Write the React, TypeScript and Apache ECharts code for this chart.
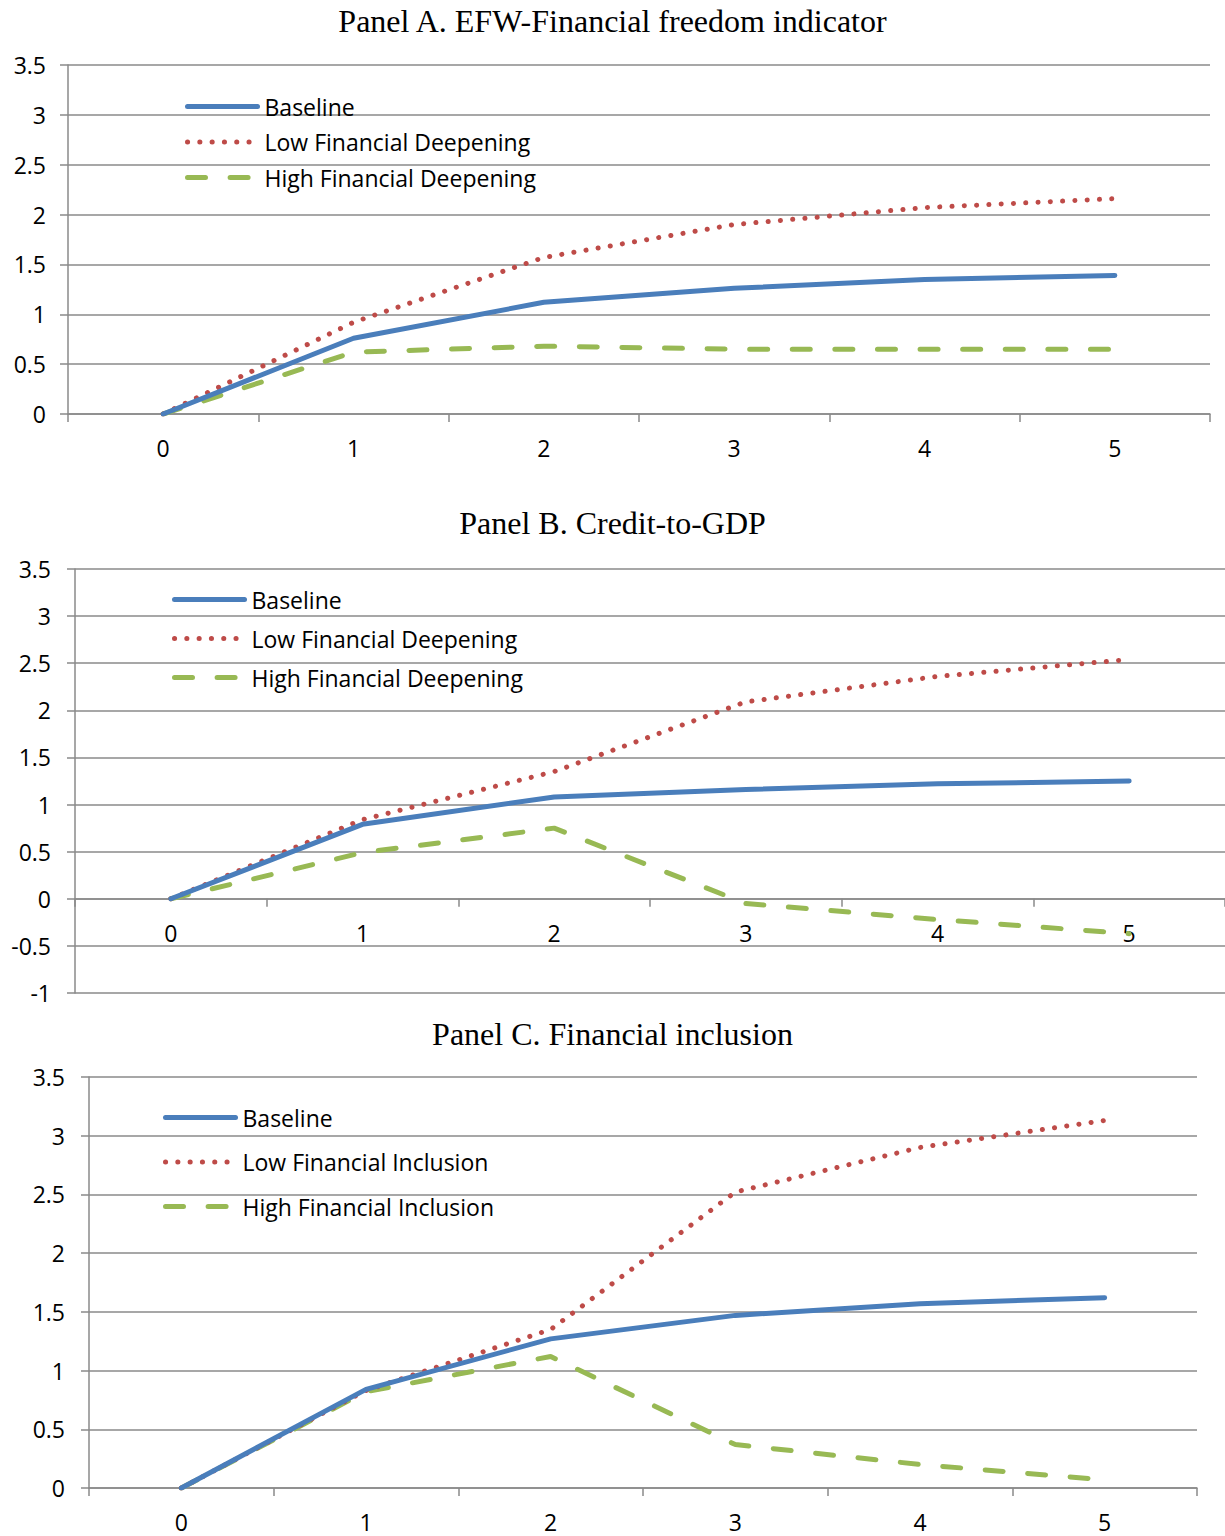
import React, { useEffect, useRef } from "react";
import * as echarts from "echarts";

const periods = ["0", "1", "2", "3", "4", "5"];

const titles = [
  "Panel A. EFW-Financial freedom indicator",
  "Panel B. Credit-to-GDP",
  "Panel C. Financial inclusion",
];

const namesA = ["Baseline", "Low Financial Deepening", "High Financial Deepening"];
const namesB = ["Baseline", "Low Financial Deepening", "High Financial Deepening"];
const namesC = ["Baseline", "Low Financial Inclusion", "High Financial Inclusion"];

const baselineA = [0, 0.76, 1.12, 1.26, 1.35, 1.39];
const lowA = [0, 0.92, 1.57, 1.9, 2.07, 2.16];
const highA = [0, 0.62, 0.68, 0.65, 0.65, 0.65];

const baselineB = [0, 0.79, 1.08, 1.16, 1.22, 1.25];
const lowB = [0, 0.84, 1.35, 2.09, 2.36, 2.54];
const highB = [0, 0.49, 0.75, -0.05, -0.22, -0.37];

const baselineC = [0, 0.84, 1.27, 1.47, 1.57, 1.62];
const lowC = [0, 0.83, 1.35, 2.52, 2.9, 3.13];
const highC = [0, 0.82, 1.12, 0.37, 0.2, 0.07];

const yMinA = 0, yMaxA = 3.5;
const yMinB = -1, yMaxB = 3.5;
const yMinC = 0, yMaxC = 3.5;
const yStep = 0.5;

const BLUE = "#4a7ebb";
const RED = "#be4b48";
const GREEN = "#98b954";
const GRID = "#8a8a8a";
const SANS = "Open Sans";
const FS = 23;

export default function App() {
  const ref = useRef<HTMLDivElement>(null);

  useEffect(() => {
    document.body.style.margin = "0";
    if (!ref.current) return;
    const chart = echarts.init(ref.current, null, { renderer: "svg" });

    const grids = [
      { left: 68, top: 65, right: 15, height: 349 },
      { left: 75, top: 569, right: 0, height: 424 },
      { left: 89, top: 1077, right: 28, height: 411 },
    ];
    const yRanges = [
      [yMinA, yMaxA],
      [yMinB, yMaxB],
      [yMinC, yMaxC],
    ];
    // distance of the zero line above the grid bottom (labels follow the zero line)
    const zeroOffset = grids.map((g, i) => (g.height * (0 - yRanges[i][0])) / (yRanges[i][1] - yRanges[i][0]));
    const xMargins = [22 - zeroOffset[0], 23 - zeroOffset[1], 22 - zeroOffset[2]];
    const yMargins = [22, 24, 24];

    const xAxes = grids.map((_, i) => ({
      type: "category",
      gridIndex: i,
      data: periods,
      boundaryGap: true,
      axisLine: { show: true, onZero: true, lineStyle: { color: GRID, width: 1.5 } },
      axisTick: { show: true, length: 8, lineStyle: { color: GRID, width: 1.5 } },
      axisLabel: { color: "#000", fontFamily: SANS, fontSize: FS, margin: xMargins[i] },
      splitLine: { show: false },
    }));

    const yAxes = grids.map((_, i) => ({
      type: "value",
      gridIndex: i,
      min: yRanges[i][0],
      max: yRanges[i][1],
      interval: yStep,
      axisLine: { show: true, lineStyle: { color: GRID, width: 1.5 } },
      axisTick: { show: true, length: 8, lineStyle: { color: GRID, width: 1.5 } },
      axisLabel: { color: "#000", fontFamily: SANS, fontSize: FS, margin: yMargins[i] },
      splitLine: { show: true, lineStyle: { color: GRID, width: 1.5 } },
    }));

    const panelData = [
      { names: namesA, data: [baselineA, lowA, highA] },
      { names: namesB, data: [baselineB, lowB, highB] },
      { names: namesC, data: [baselineC, lowC, highC] },
    ];

    const styles = [
      { color: BLUE, lineStyle: { color: BLUE, width: 5, type: "solid", cap: "round" } },
      { color: RED, lineStyle: { color: RED, width: 5, type: [0.1, 12.2], cap: "round" } },
      { color: GREEN, lineStyle: { color: GREEN, width: 5, type: [18, 24.6], cap: "round" } },
    ];

    const series: any[] = [];
    panelData.forEach((p, i) => {
      p.data.forEach((d, k) => {
        series.push({
          type: "line",
          name: p.names[k],
          xAxisIndex: i,
          yAxisIndex: i,
          data: d,
          symbol: "none",
          showSymbol: false,
          color: styles[k].color,
          lineStyle: styles[k].lineStyle,
          z: 5 - k,
        });
      });
    });

    const legendPos = [
      { left: 185, top: 95, gap: 12.5 },
      { left: 172, top: 588, gap: 16 },
      { left: 163, top: 1106, gap: 21.5 },
    ];

    const legends = panelData.map((p, i) => ({
      orient: "vertical",
      left: legendPos[i].left,
      top: legendPos[i].top,
      itemWidth: 70,
      itemHeight: 22,
      itemGap: legendPos[i].gap,
      padding: 0,
      selectedMode: false,
      data: p.names.map((n, k) => ({
        name: n,
        itemStyle: { opacity: 0 },
        lineStyle: { ...styles[k].lineStyle },
      })),
      textStyle: { color: "#000", fontFamily: SANS, fontSize: FS, lineHeight: 22, padding: [0, 0, 0, 2] },
    }));

    const titleTops = [5, 507, 1018];
    const titleOpts = titles.map((t, i) => ({
      text: t,
      left: "center",
      top: titleTops[i],
      padding: 0,
      textStyle: { fontFamily: "Liberation Serif", fontSize: 32, fontWeight: "normal", color: "#000" },
    }));

    chart.setOption({
      animation: false,
      backgroundColor: "#fff",
      title: titleOpts,
      legend: legends,
      grid: grids,
      xAxis: xAxes,
      yAxis: yAxes,
      series,
    });

    return () => chart.dispose();
  }, []);

  return <div ref={ref} style={{ width: 1225, height: 1536 }} />;
}
